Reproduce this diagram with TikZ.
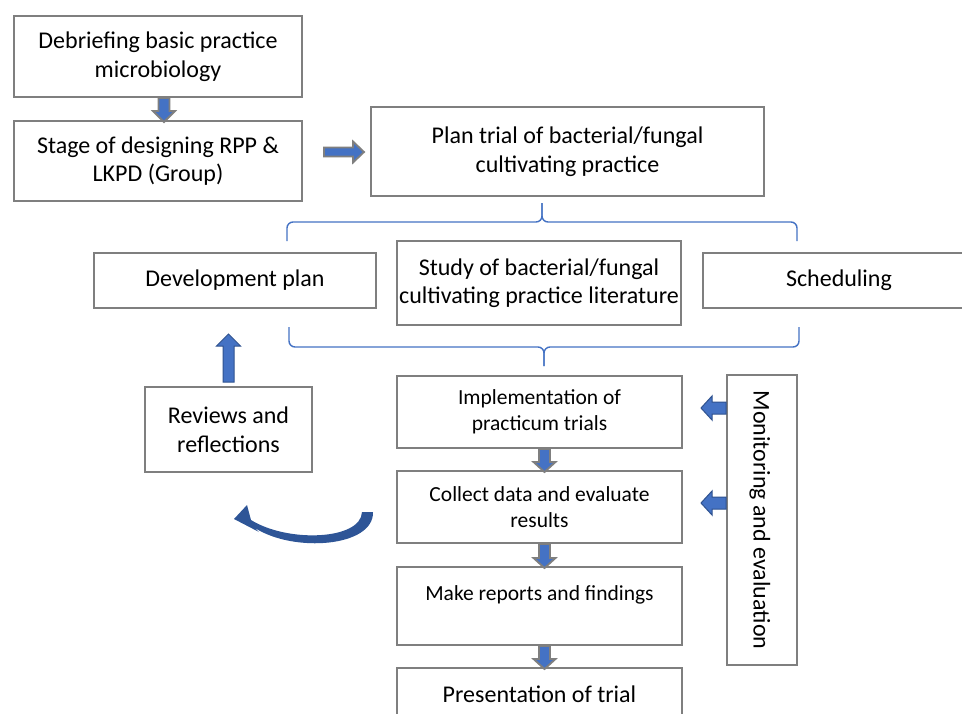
\documentclass[tikz,border=0pt]{standalone}
\usepackage{fontspec}
\setmainfont{Carlito}
\usetikzlibrary{calc}
\definecolor{boxgray}{HTML}{7F7F7F}
\definecolor{ablue}{HTML}{4472C4}
\definecolor{dblue}{HTML}{2F528F}
\definecolor{cblue}{HTML}{2E5597}
\begin{document}
\begin{tikzpicture}[x=1pt,y=-1pt,
 box/.style={draw=boxgray, line width=2pt, fill=white, align=center, inner sep=0pt},
 big/.style={font=\fontsize{24}{28.5}\selectfont},
 small/.style={font=\fontsize{21.5}{26}\selectfont},
 garrow/.style={fill=ablue, draw=boxgray, line width=1.8pt, line join=miter},
 barrowstyle/.style={fill=ablue, draw=dblue, line width=1pt},
 brace/.style={draw=ablue, line width=1.4pt, rounded corners=6pt},
 pics/barrow/.style n args={4}{code={\path[pic actions] (0,-#2) -- ({#1-#4},-#2) -- ({#1-#4},-#3) -- (#1,0) -- ({#1-#4},#3) -- ({#1-#4},#2) -- (0,#2) -- cycle;}}
]
\useasboundingbox (0,0) rectangle (962,713);
\clip (0,0) rectangle (962,713);
\fill[white] (0,0) rectangle (962,713);

% boxes
\node[box,big,minimum width=288pt,minimum height=81pt] (d1) at (158,56.5) {Debriefing basic practice\\microbiology};
\node[box,big,minimum width=288pt,minimum height=80pt] (d2) at (158,161) {Stage of designing RPP \&\\LKPD (Group)};
\node[box,big,minimum width=393pt,minimum height=89pt] (p) at (567.5,151.5) {Plan trial of bacterial/fungal\\cultivating practice};
\node[box,big,minimum width=282pt,minimum height=55pt] (dev) at (235,280.5) {Development plan};
\node[box,big,minimum width=284pt,minimum height=84pt] (st) at (539,283) {Study of bacterial/fungal\\cultivating practice literature};
\node[box,big,minimum width=272pt,minimum height=55pt] (sch) at (839,280.5) {Scheduling};
\node[box,big,minimum width=167pt,minimum height=85pt] (rv) at (228.5,429.5) {Reviews and\\reflections};
\node[box,small,minimum width=285pt,minimum height=72pt] (im) at (539.5,412) {Implementation of\\practicum trials};
\node[box,small,minimum width=285pt,minimum height=72pt] (cd) at (539.5,507) {Collect data and evaluate\\results};
\node[box,small,minimum width=285pt,minimum height=78pt] (mk) at (539.5,606) {Make reports and findings\\\mbox{}};
\node[box,big,minimum width=285pt,minimum height=52pt] (pr) at (539.5,694) {Presentation of trial};
\node[box,minimum width=70pt,minimum height=290pt] (m) at (762,520) {};
\node[big,rotate=-90,inner sep=0pt] (mt) at ($(m.center)+(-2,0)$) {Monitoring and evaluation};

% braces
\draw[brace] (287,241) -- (287,222) -- (542,222) -- (542,203);
\draw[brace] (797,241) -- (797,222) -- (542,222) -- (542,203);
\draw[brace] (289,327) -- (289,347) -- (544,347) -- (544,366);
\draw[brace] (799,327) -- (799,347) -- (544,347) -- (544,366);

% block arrows
\pic[garrow,rotate=-90] at ($(d1.south)+(6,0)$) {barrow={24}{5.5}{11}{11}};
\pic[garrow] at ($(d2.east)+(21,-9)$) {barrow={40}{4.5}{10.5}{11}};
\pic[garrow,rotate=-90] at ($(im.south)+(5,0)$) {barrow={23}{5.5}{11}{10}};
\pic[garrow,rotate=-90] at ($(cd.south)+(5,0)$) {barrow={24}{5.5}{11}{10}};
\pic[garrow,rotate=-90] at ($(mk.south)+(5,0)$) {barrow={23}{5.5}{11}{10}};
\pic[barrowstyle,rotate=180] at ($(m.north west)+(0,34)$) {barrow={25}{6}{12}{11}};
\pic[barrowstyle,rotate=180] at ($(m.north west)+(0,129)$) {barrow={25}{6}{12}{11}};
\pic[barrowstyle,rotate=90] at ($(rv.north)+(0,-4)$) {barrow={48}{5.5}{12}{12}};

% curved arrow
\fill[cblue] (362,512) -- (373,512) .. controls (374,547) and (294,553) .. (255,528) -- (259,532) -- (234,519) -- (247,505) -- (251,520) .. controls (288,543) and (361,540) .. (362,512) -- cycle;
\end{tikzpicture}
\end{document}
